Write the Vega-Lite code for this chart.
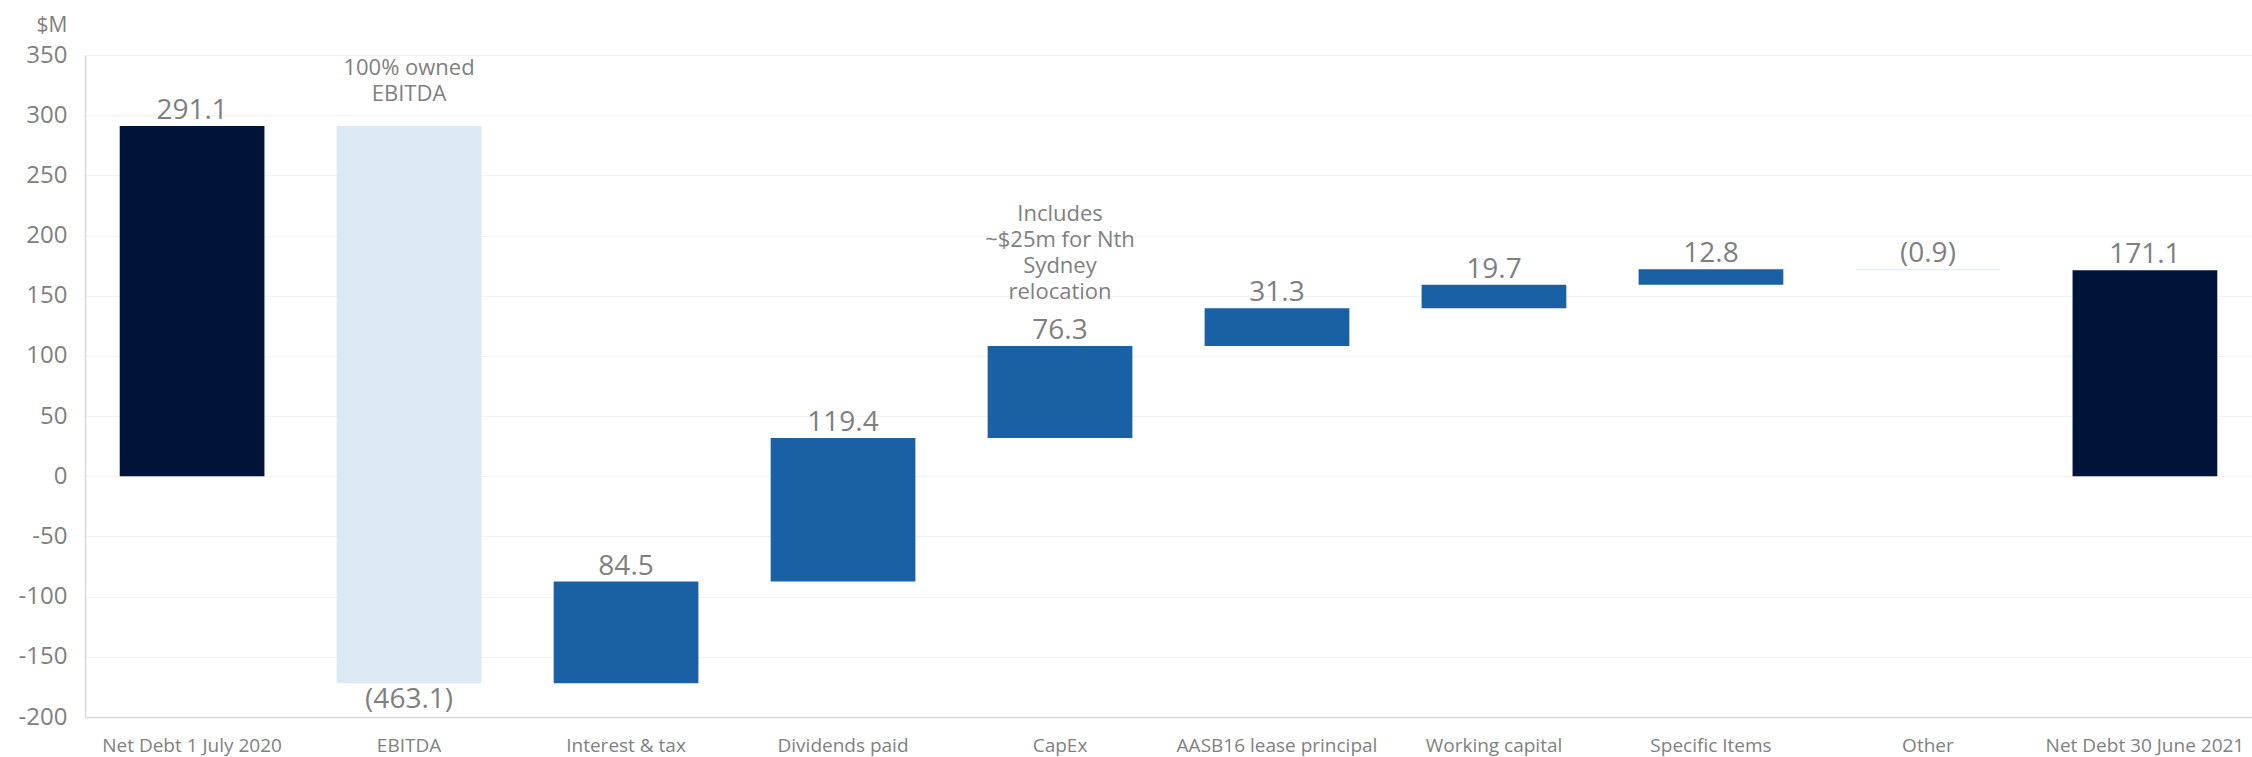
{
  "$schema": "https://vega.github.io/schema/vega-lite/v6.json",
  "autosize": {"type": "none"},
  "padding": {"left": 85, "top": 55, "right": 0, "bottom": 40},
  "width": 2167,
  "height": 662,
  "config": {"view": {"stroke": null}, "font": "Open Sans"},
  "datasets": {
    "steps": [
      {"cat": "Net Debt 1 July 2020", "start": 0, "end": 291.1, "kind": "total", "label": "291.1"},
      {"cat": "EBITDA", "start": 291.1, "end": -172.0, "kind": "decrease", "label": "(463.1)"},
      {"cat": "Interest & tax", "start": -172.0, "end": -87.5, "kind": "increase", "label": "84.5"},
      {"cat": "Dividends paid", "start": -87.5, "end": 31.9, "kind": "increase", "label": "119.4"},
      {"cat": "CapEx", "start": 31.9, "end": 108.2, "kind": "increase", "label": "76.3"},
      {"cat": "AASB16 lease principal", "start": 108.2, "end": 139.5, "kind": "increase", "label": "31.3"},
      {"cat": "Working capital", "start": 139.5, "end": 159.2, "kind": "increase", "label": "19.7"},
      {"cat": "Specific Items", "start": 159.2, "end": 172.0, "kind": "increase", "label": "12.8"},
      {"cat": "Other", "start": 172.0, "end": 171.1, "kind": "decrease", "label": "(0.9)"},
      {"cat": "Net Debt 30 June 2021", "start": 0, "end": 171.1, "kind": "total", "label": "171.1"}
    ],
    "notes": [
      {"cat": "EBITDA", "y": 333, "text": ["100% owned", "EBITDA"]},
      {"cat": "CapEx", "y": 212, "text": ["Includes", "~$25m for Nth", "Sydney", "relocation"]}
    ]
  },
  "layer": [
    {
      "data": {"name": "steps"},
      "mark": {"type": "bar"},
      "encoding": {
        "x": {
          "field": "cat", "type": "nominal", "sort": null,
          "scale": {
            "domain": ["Net Debt 1 July 2020", "EBITDA", "Interest & tax", "Dividends paid", "CapEx", "AASB16 lease principal", "Working capital", "Specific Items", "Other", "Net Debt 30 June 2021"],
            "paddingInner": 0.333, "paddingOuter": 0.16
          },
          "axis": {
            "title": null, "labelAngle": 0, "labelFontSize": 19, "labelColor": "#7f7f7f",
            "labelLimit": 400, "labelBound": false, "labelOverlap": false,
            "domainColor": "#d9d9d9", "domainWidth": 1.5, "ticks": false, "labelPadding": 19
          }
        },
        "y": {
          "field": "start", "type": "quantitative",
          "scale": {"domain": [-200, 350], "nice": false, "zero": false},
          "axis": {
            "values": [-200, -150, -100, -50, 0, 50, 100, 150, 200, 250, 300, 350],
            "labelExpr": "'' + datum.value",
            "grid": true, "gridColor": "#f2f2f2", "domainColor": "#d9d9d9", "domainWidth": 1.5,
            "ticks": false, "labelFontSize": 24, "labelColor": "#808080", "labelPadding": 18,
            "title": "$M", "titleAngle": 0, "titleFontSize": 21, "titleFontWeight": "normal",
            "titleColor": "#808080", "titleAlign": "right", "titleBaseline": "middle",
            "titleX": -18, "titleY": -30
          }
        },
        "y2": {"field": "end"},
        "color": {
          "field": "kind", "type": "nominal", "legend": null,
          "scale": {"domain": ["total", "decrease", "increase"], "range": ["#00143a", "#dde8f5", "#1a60a5"]}
        }
      }
    },
    {
      "data": {"name": "steps"},
      "transform": [
        {"filter": "datum.cat != 'EBITDA'"},
        {"calculate": "max(datum.start, datum.end)", "as": "top"}
      ],
      "mark": {"type": "text", "baseline": "alphabetic", "dy": -7, "fontSize": 28, "color": "#7f7f7f"},
      "encoding": {
        "x": {"field": "cat", "type": "nominal", "sort": null},
        "y": {"field": "top", "type": "quantitative"},
        "text": {"field": "label"}
      }
    },
    {
      "data": {"name": "steps"},
      "transform": [
        {"filter": "datum.cat == 'EBITDA'"},
        {"calculate": "min(datum.start, datum.end)", "as": "bottom"}
      ],
      "mark": {"type": "text", "baseline": "top", "dy": 3, "fontSize": 28, "color": "#7f7f7f"},
      "encoding": {
        "x": {"field": "cat", "type": "nominal", "sort": null},
        "y": {"field": "bottom", "type": "quantitative"},
        "text": {"field": "label"}
      }
    },
    {
      "data": {"name": "notes"},
      "mark": {"type": "text", "baseline": "alphabetic", "fontSize": 22, "lineHeight": 26, "color": "#808080"},
      "encoding": {
        "x": {"field": "cat", "type": "nominal", "sort": null},
        "y": {"field": "y", "type": "quantitative"},
        "text": {"field": "text"}
      }
    }
  ]
}
